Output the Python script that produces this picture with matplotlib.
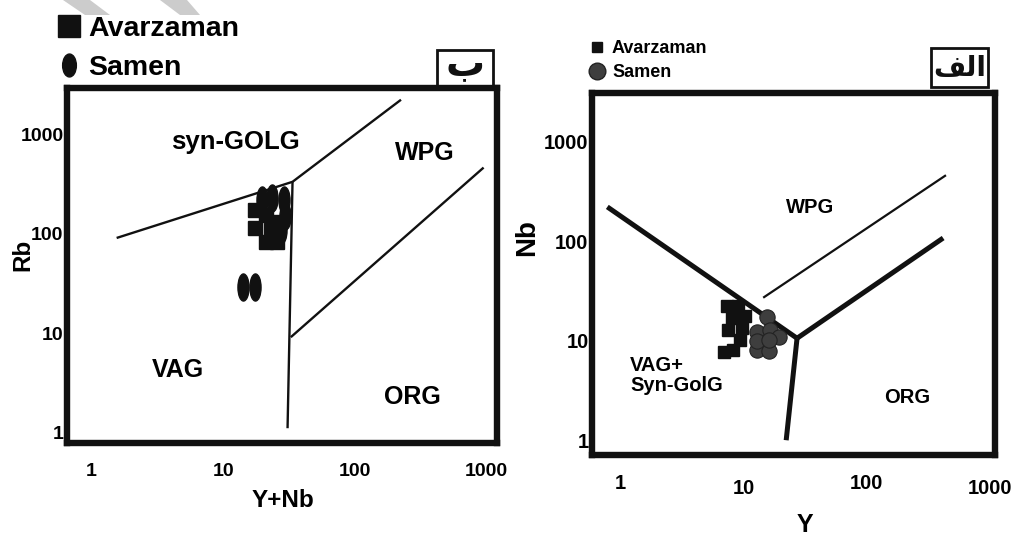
import matplotlib
matplotlib.use('Agg')
import matplotlib.pyplot as plt
from matplotlib.lines import Line2D
from matplotlib.patches import Rectangle, Polygon
from matplotlib.path import Path
from matplotlib.transforms import Affine2D

plt.rcParams['font.family'] = ['Liberation Sans', 'DejaVu Sans']
plt.rcParams['font.weight'] = 'bold'

# ---- panel "ب" : Rb vs Y+Nb ----
rb_av_x = [17.3, 17.3, 21.3, 25.8, 21.3, 22.9, 26.3]
rb_av_y = [175, 115, 83, 83, 156, 110, 132]
rb_sa_x = [19.8, 23.6, 28.7, 29.2, 27.7, 14.2, 17.3]
rb_sa_y = [220, 231, 220, 152, 110, 29, 29]

# discrimination boundaries (Pearce et al.)
syn_vag_x = [1.55, 33.6, 224]
syn_vag_y = [91, 335, 2250]
vag_org_x = [33.6, 30.8]
vag_org_y = [335, 1.1]
wpg_org_x = [32.6, 950]
wpg_org_y = [9.1, 466]

# ---- panel "الف" : Nb vs Y ----
nb_av_x = [7.38, 9.06, 10.3, 8.1, 9.76, 7.5, 9.4, 8.26, 7.0]
nb_av_y = [22.4, 22.4, 17.7, 16.9, 13.4, 12.8, 10.2, 8.06, 7.7]
nb_sa_x = [15.6, 12.9, 16.5, 19.5, 12.9, 16.2, 12.9, 16.0]
nb_sa_y = [17.3, 12.2, 12.8, 10.9, 8.06, 7.87, 9.9, 10.2]

y_vw_x = [0.785, 27.2]
y_vw_y = [222, 10.6]
y_wo_x = [27.2, 417]
y_wo_y = [10.6, 108]
y_vo_x = [27.2, 22.2]
y_vo_y = [10.6, 1.0]
y_thin_x = [14.7, 432]
y_thin_y = [27.5, 456]

ticks = [1, 10, 100, 1000]
tick_labels = ['1', '10', '100', '1000']


def ellipse(ratio):
    return Path.unit_circle().transformed(Affine2D().scale(ratio, 1.0))


def frame(ax, xlim, ylim, fs, xpad):
    ax.set_xscale('log')
    ax.set_yscale('log')
    ax.set_xlim(*xlim)
    ax.set_ylim(*ylim)
    ax.set_xticks(ticks)
    ax.set_xticklabels(tick_labels)
    ax.set_yticks(ticks)
    ax.set_yticklabels(tick_labels)
    ax.minorticks_off()
    ax.tick_params(length=0, labelsize=fs)
    ax.tick_params(axis='x', pad=xpad)
    ax.tick_params(axis='y', pad=2.5)
    for s in ax.spines.values():
        s.set_linewidth(4.6)
        s.set_color('#111111')


def badge(ax, x0, y0, w, h, txt, fs, ty=0.5):
    ax.add_patch(Rectangle((x0, y0), w, h, transform=ax.transAxes, fill=False,
                           lw=2, ec='#111111', clip_on=False))
    ax.text(x0 + w / 2, y0 + h * ty, txt, transform=ax.transAxes, ha='center',
            va='center', fontsize=fs, fontweight='bold', family=['DejaVu Sans'],
            color='#111111', zorder=5)


fig = plt.figure(figsize=(10.19, 5.37), dpi=100)

# faint watermark strokes in the top-left corner
for pts in ([(63, 0), (90, 0), (110, 15), (85, 15)],
            [(160, 0), (187, 0), (200, 15), (180, 15)]):
    fig.add_artist(Polygon([(x / 1019, 1 - y / 537) for x, y in pts],
                           closed=True, transform=fig.transFigure,
                           fc='#cccccc', ec='none', zorder=0))

# ---------- left panel ----------
ax1 = fig.add_axes([0.0657, 0.175, 0.422, 0.661])
frame(ax1, (0.65, 1200), (0.78, 2950), 14, 14.5)
for xs, ys in ((syn_vag_x, syn_vag_y), (vag_org_x, vag_org_y), (wpg_org_x, wpg_org_y)):
    ax1.plot(xs, ys, color='#111111', lw=1.7, solid_capstyle='butt')
ax1.plot(rb_av_x, rb_av_y, ls='none', marker='s', ms=9.5, color='#111111')
ax1.plot(rb_sa_x, rb_sa_y, ls='none', marker=ellipse(0.41), ms=19.5, color='#111111')

ax1.text(12.4, 850, 'syn-GOLG', ha='center', va='center', fontsize=18.5)
ax1.text(342, 658, 'WPG', ha='center', va='center', fontsize=18)
ax1.text(4.53, 4.23, 'VAG', ha='center', va='center', fontsize=18)
ax1.text(272, 2.26, 'ORG', ha='center', va='center', fontsize=18)

ax1.text(-0.102, 0.53, 'Rb', transform=ax1.transAxes, rotation=90,
         ha='center', va='center', fontsize=17.5)
ax1.text(0.502, -0.161, 'Y+Nb', transform=ax1.transAxes,
         ha='center', va='center', fontsize=17.5)
badge(ax1, 0.860, 1.003, 0.131, 0.104, 'ب', 28, ty=0.62)

h1 = [Line2D([], [], ls='none', marker='s', ms=16, color='#111111'),
      Line2D([], [], ls='none', marker=ellipse(0.6), ms=16.5, color='#111111')]
fig.legend(h1, ['Avarzaman', 'Samen'], loc='upper left',
           bbox_to_anchor=(58 / 1019, 1 - 16 / 537), frameon=False,
           fontsize=20.5, borderpad=0, borderaxespad=0, handlelength=0.77,
           handletextpad=0.28, labelspacing=0.47)

# ---------- right panel ----------
ax2 = fig.add_axes([0.581, 0.1527, 0.3955, 0.674])
frame(ax2, (0.59, 1100), (0.71, 3100), 14.5, 14)
# the printed x labels sit at two alternating heights
for t in ax2.xaxis.get_major_ticks()[1::2]:
    t.set_pad(17.5)
for xs, ys in ((y_vw_x, y_vw_y), (y_wo_x, y_wo_y), (y_vo_x, y_vo_y)):
    ax2.plot(xs, ys, color='#111111', lw=3.6, solid_capstyle='butt')
ax2.plot(y_thin_x, y_thin_y, color='#111111', lw=1.6)
ax2.plot(nb_av_x, nb_av_y, ls='none', marker='s', ms=8, color='#111111')
ax2.plot(nb_sa_x, nb_sa_y, ls='none', marker='o', ms=11, mfc='#3e3e3e',
         mec='#222222', mew=0.8)

ax2.text(34.8, 217, 'WPG', ha='center', va='center', fontsize=14.5)
ax2.text(1.2, 4.5, 'VAG+\nSyn-GolG', ha='left', va='center', fontsize=14.5,
         linespacing=1.05)
ax2.text(213, 2.71, 'ORG', ha='center', va='center', fontsize=14.5)

ax2.text(-0.161, 0.602, 'Nb', transform=ax2.transAxes, rotation=90,
         ha='center', va='center', fontsize=20)
ax2.text(0.529, -0.193, 'Y', transform=ax2.transAxes,
         ha='center', va='center', fontsize=18)
# "الف" written with presentation forms so it shapes right-to-left
badge(ax2, 0.841, 1.017, 0.142, 0.107, '\ufed2\ufedf\u0627', 20)

h2 = [Line2D([], [], ls='none', marker='s', ms=7.5, color='#111111'),
      Line2D([], [], ls='none', marker='o', ms=12, mfc='#3e3e3e', mec='#222222')]
fig.legend(h2, ['Avarzaman', 'Samen'], loc='upper left',
           bbox_to_anchor=(590 / 1019, 1 - 40 / 537), frameon=False,
           fontsize=13, borderpad=0, borderaxespad=0, handlelength=0.82,
           handletextpad=0.4, labelspacing=0.39)

fig.savefig('out.png', dpi=100)
